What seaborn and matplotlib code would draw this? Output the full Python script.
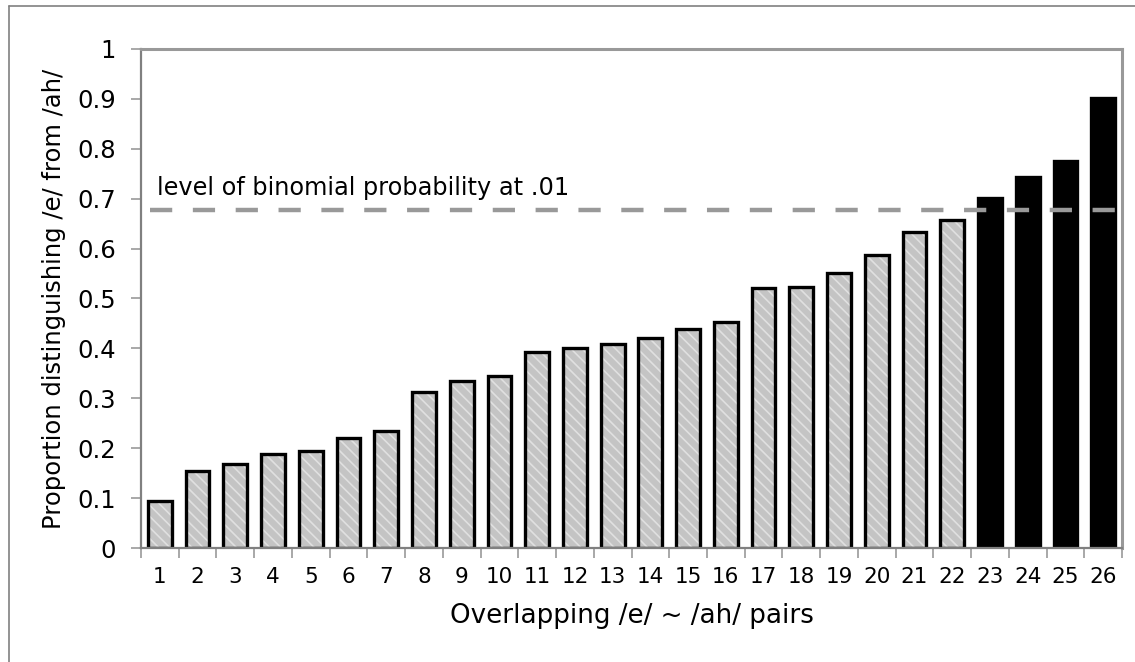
import numpy as np
import pandas as pd
import seaborn as sns
import matplotlib
matplotlib.use("Agg")
from matplotlib import pyplot as plt
from matplotlib.ticker import MultipleLocator, FixedLocator, FuncFormatter
from matplotlib.lines import Line2D

# pair index and proportion distinguishing /e/ from /ah/
PAIRS = [str(i) for i in range(1, 27)]
PROPORTION = [0.095, 0.154, 0.168, 0.188, 0.194, 0.220, 0.234, 0.313, 0.335, 0.345,
              0.393, 0.401, 0.409, 0.421, 0.439, 0.453, 0.521, 0.523, 0.551, 0.587,
              0.633, 0.657, 0.701, 0.743, 0.776, 0.902]
THRESHOLD = 0.677
THRESHOLD_LABEL = "level of binomial probability at .01"

sns.set_style("white")
plt.rcParams['font.family'] = ['DejaVu Sans']
plt.rcParams['hatch.linewidth'] = 1.2
plt.rcParams['text.color'] = 'black'
plt.rcParams['axes.labelcolor'] = 'black'
plt.rcParams['xtick.labelcolor'] = 'black'
plt.rcParams['ytick.labelcolor'] = 'black'

df = pd.DataFrame({'pair': PAIRS, 'value': PROPORTION})
df['group'] = np.where(df['value'] > THRESHOLD, 'above', 'below')

fig = plt.figure(figsize=(11.35, 6.62), dpi=100)
ax = fig.add_axes([141 / 1135, 1 - 548 / 662, 981 / 1135, 499 / 662])

# fill layer (hatched grey / solid black)
sns.barplot(data=df, x='pair', y='value', hue='group',
            palette={'below': '#c4c4c4', 'above': 'black'},
            width=0.63, dodge=False, legend=False, ax=ax, linewidth=0)
for p, g in zip(ax.patches, df['group']):
    if g == 'below':
        p.set_hatch('\\\\\\')
        p.set_edgecolor('#e0e0e0')
        p.set_linewidth(0)

# outline layer
sns.barplot(data=df, x='pair', y='value', fill=False, color='black',
            width=0.63, linewidth=2.4, ax=ax)

ax.axhline(THRESHOLD, xmin=0.009, xmax=1, color='#999999', lw=3.2,
           dashes=(5, 4.64), zorder=5)
ax.text(-0.08, THRESHOLD + 0.02, THRESHOLD_LABEL, fontsize=17.3,
        va='bottom', ha='left')

ax.set_xlim(-0.5, len(PAIRS) - 0.5)
ax.set_ylim(0, 1)
ax.yaxis.set_major_locator(MultipleLocator(0.1))
ax.yaxis.set_major_formatter(FuncFormatter(
    lambda v, pos: '%d' % round(v) if abs(v - round(v)) < 1e-6 else '%.1f' % v))
ax.xaxis.set_minor_locator(FixedLocator(np.arange(-0.5, len(PAIRS), 1)))
ax.tick_params(axis='x', which='major', length=0, labelsize=15.5, pad=14)
ax.tick_params(axis='x', which='minor', length=7, width=1.2, color='#999999',
               direction='out', bottom=True)
ax.tick_params(axis='y', length=7, width=1.2, color='#999999', direction='out',
               left=True, labelsize=17.5, pad=11)

for s in ax.spines.values():
    s.set_color('#999999')
    s.set_linewidth(2.2)
ax.spines['left'].set_color('#808080')
ax.spines['left'].set_linewidth(1.6)
ax.spines['bottom'].set_color('#808080')
ax.spines['bottom'].set_linewidth(1.6)

ax.set_xlabel('Overlapping /e/ ~ /ah/ pairs', fontsize=18.8, labelpad=11)
ax.set_ylabel('Proportion distinguishing /e/ from /ah/', fontsize=17.5, labelpad=8)

# outer chart frame (top and left edges visible)
fig.add_artist(Line2D([9 / 1135, 1], [1 - 6 / 662, 1 - 6 / 662],
                      transform=fig.transFigure, color='#808080', lw=1.2))
fig.add_artist(Line2D([9 / 1135, 9 / 1135], [0, 1 - 6 / 662],
                      transform=fig.transFigure, color='#808080', lw=1.2))

fig.savefig('out.png', dpi=100)
